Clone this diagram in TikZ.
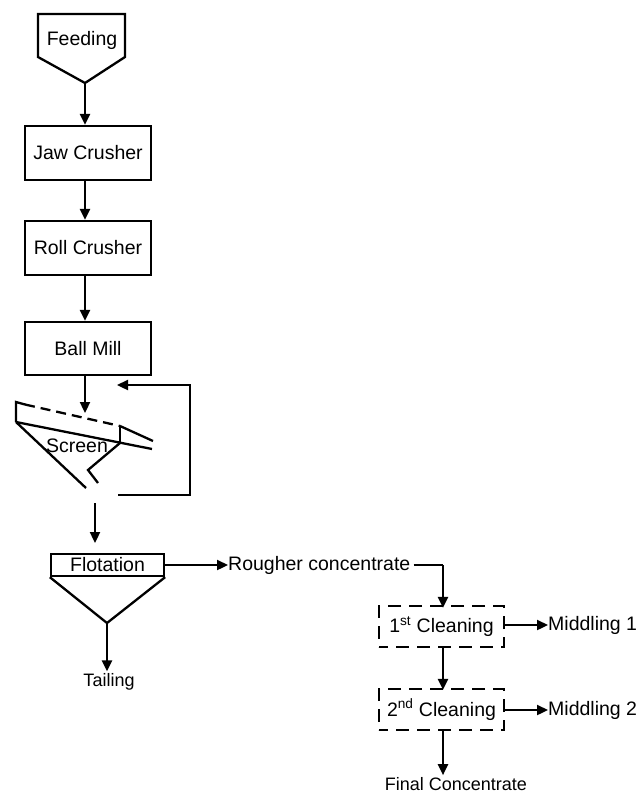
\documentclass[tikz,border=0pt]{standalone}
\usepackage{fontspec}
\setmainfont{Liberation Sans}
\usetikzlibrary{arrows.meta,calc}
\begin{document}
\begin{tikzpicture}[x=1pt,y=-1pt,
  every node/.style={font=\fontsize{19.5pt}{22pt}\selectfont, inner sep=2pt},
  ln/.style={line width=2.3pt, line join=miter},
  arr/.style={ln, -{Triangle[length=11pt,width=10pt]}},
  procbox/.style={draw, line width=2.3pt, minimum width=126pt, minimum height=54pt},
  cleanbox/.style={draw, line width=2.3pt, dash pattern=on 13pt off 8pt, dash phase=4pt, minimum width=125pt, minimum height=41pt},
  small/.style={font=\fontsize{18pt}{21pt}\selectfont}]
\useasboundingbox (0,0) rectangle (637,793);
% Feeding
\node (feed) at (82,40) {Feeding};
\coordinate (feedtip) at (85,83);
\draw[ln] (38,14) -- (125,14) -- (125,57) -- (feedtip) -- (38,57) -- cycle;
% boxes
\node[procbox] (jaw) at (88,153) {Jaw Crusher};
\node[procbox] (roll) at (88,248) {Roll Crusher};
\node[procbox, minimum height=53pt] (ball) at (88,348.5) {Ball Mill};
\draw[arr] (feedtip) -- (jaw.north -| feedtip);
\draw[arr] (jaw.south -| feedtip) -- (roll.north -| feedtip);
\draw[arr] (roll.south -| feedtip) -- (ball.north -| feedtip);
% screen
\coordinate (sA) at (16,402);
\coordinate (sB) at (16,422);
\coordinate (sC) at (120,426);
\coordinate (sD) at (120,443);
\coordinate (sin) at (85,413);
\draw[arr] (ball.south -| feedtip) -- (sin);
\draw[ln] (sB) -- (sA) -- (25,404.5);
\draw[ln, dash pattern=on 10pt off 6pt] (25,404.5) -- (sC);
\draw[ln] (sC) -- (153,441);
\draw[ln] (sC) -- (sD);
\draw[ln] (sB) -- (152,449);
\draw[ln] (sB) -- (86,488);
\draw[ln] (sD) -- (88,470) -- (98,483);
\node (screen) at (77,446) {Screen};
% recycle
\coordinate (r1) at (118,495);
\coordinate (r2) at (190,385);
\coordinate (r3) at (117,385);
\draw[arr] (r1) -| (r2) -- (r3);
% flotation
\coordinate (fin1) at (95,503);
\coordinate (fin2) at (95,543);
\draw[arr] (fin1) -- (fin2);
\node[draw, line width=2.3pt, minimum width=113pt, minimum height=22pt, inner sep=0pt] (flot) at (107.5,565) {Flotation};
\coordinate (flotpt) at (107,623);
\draw[ln] (flot.south west) -- (flotpt) -- (flot.south east);
\node[small] (tail) at (109,682) {Tailing};
\draw[arr] (flotpt) -- (tail.north -| flotpt);
% rougher
\node[anchor=west, inner sep=0pt] (rough) at (228,565) {Rougher concentrate};
\draw[arr] (flot.east) -- (rough.west);
\coordinate (rc) at (443,565);
\node[cleanbox] (c1) at (441.5,626.5) {1\textsuperscript{st} Cleaning};
\node[cleanbox] (c2) at (441.5,709.5) {2\textsuperscript{nd} Cleaning};
\draw[ln] ($(rough.east)+(3,0)$) -- (rc);
\draw[arr] (rc) -- ([yshift=-3pt]c1.north -| rc);
\draw[arr] (c1.south -| rc) -- ([yshift=-2pt]c2.north -| rc);
\node[anchor=west, inner sep=0pt] (m1) at (548,625) {Middling 1};
\node[anchor=west, inner sep=0pt] (m2) at (548,710) {Middling 2};
\draw[arr] (c1.east |- m1) -- (m1.west);
\draw[arr] (c2.east |- m2) -- (m2.west);
\node[small, inner sep=2pt] (final) at (456,784) {Final Concentrate};
\draw[arr] (c2.south -| rc) -- (final.north -| rc);
\end{tikzpicture}
\end{document}
